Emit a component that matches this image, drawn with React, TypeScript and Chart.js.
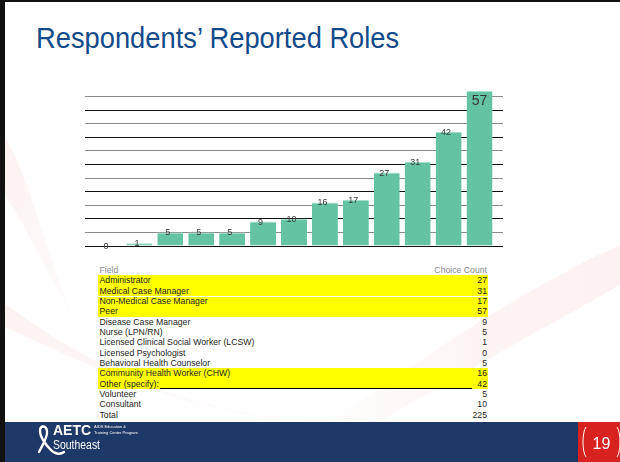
import React, { useEffect, useRef } from "react";
import { Chart, registerables } from "chart.js";

Chart.register(...registerables);

// ---- chart data (sorted as in the bar chart) ----
const barCategories = [
  "Licensed Psychologist",
  "Licensed Clinical Social Worker (LCSW)",
  "Nurse (LPN/RN)",
  "Behavioral Health Counselor",
  "Volunteer",
  "Disease Case Manager",
  "Consultant",
  "Community Health Worker (CHW)",
  "Non-Medical Case Manager",
  "Administrator",
  "Medical Case Manager",
  "Other (specify):",
  "Peer",
];
const barValues = [0, 1, 5, 5, 5, 9, 10, 16, 17, 27, 31, 42, 57];
const yMin = 0;
const yMax = 57;
const yStep = 5;

// ---- table data ----
const tableHeader = ["Field", "Choice Count"];
const tableFields = [
  "Administrator",
  "Medical Case Manager",
  "Non-Medical Case Manager",
  "Peer",
  "Disease Case Manager",
  "Nurse (LPN/RN)",
  "Licensed Clinical Social Worker (LCSW)",
  "Licensed Psychologist",
  "Behavioral Health Counselor",
  "Community Health Worker (CHW)",
  "Other (specify):",
  "Volunteer",
  "Consultant",
  "Total",
];
const tableCounts = [27, 31, 17, 57, 9, 5, 1, 0, 5, 16, 42, 5, 10, 225];
const tableHighlighted = [true, true, true, true, false, false, false, false, false, true, true, false, false, false];

const title = "Respondents\u2019 Reported Roles";
const slideNumber = "19";

const FONT = "Arial, 'Liberation Sans', Helvetica, sans-serif";

const gridColor = (ctx: any) => (ctx.index % 2 === 1 ? "#8a8a8a" : "#111111");

const labelPlugin = {
  id: "barLabels",
  afterDatasetsDraw(chart: any) {
    const ctx = chart.ctx;
    const meta = chart.getDatasetMeta(0);
    const data = chart.data.datasets[0].data as number[];
    const maxVal = Math.max(...data);
    ctx.save();
    ctx.textAlign = "center";
    ctx.textBaseline = "middle";
    meta.data.forEach((el: any, i: number) => {
      const v = data[i];
      if (v === maxVal) {
        ctx.font = `14px ${FONT}`;
        ctx.fillStyle = "#333333";
        ctx.fillText(String(v), el.x, el.y + 10);
      } else {
        ctx.font = `9px ${FONT}`;
        ctx.fillStyle = "#3a3a3a";
        ctx.fillText(String(v), el.x - 2.5, el.y + 0.5);
      }
    });
    ctx.restore();
  },
};

function BarChart() {
  const ref = useRef<HTMLCanvasElement | null>(null);
  useEffect(() => {
    if (!ref.current) return;
    const chart = new Chart(ref.current, {
      type: "bar",
      data: {
        labels: barCategories,
        datasets: [
          {
            data: barValues,
            backgroundColor: "#64c3a2",
            borderColor: "#a9e2cc",
            borderWidth: { top: 1, left: 0, right: 0, bottom: 0 },
            borderSkipped: false,
            barPercentage: 0.84,
            categoryPercentage: 1,
          },
        ],
      },
      options: {
        animation: false,
        responsive: false,
        maintainAspectRatio: false,
        layout: { padding: { top: 6, bottom: 6, left: 0, right: 0 } },
        plugins: { legend: { display: false }, tooltip: { enabled: false } },
        scales: {
          x: { display: false },
          y: {
            min: yMin,
            max: yMax,
            position: "left",
            ticks: { display: false, stepSize: yStep, includeBounds: false },
            border: { display: false },
            grid: { color: gridColor, tickColor: gridColor, tickLength: 8, drawTicks: true, lineWidth: 1 },
          },
          y2: {
            min: yMin,
            max: yMax,
            position: "right",
            ticks: { display: false, stepSize: yStep, includeBounds: false },
            border: { display: false },
            grid: { color: gridColor, tickColor: gridColor, tickLength: 8, drawTicks: true, drawOnChartArea: false, lineWidth: 1 },
          },
        },
      },
      plugins: [labelPlugin],
    } as any);
    return () => chart.destroy();
  }, []);
  return (
    <canvas
      ref={ref}
      width={418}
      height={167}
      style={{ position: "absolute", left: 85, top: 85, width: 418, height: 167 }}
    />
  );
}

function Table() {
  const rowH = 10.36;
  const rowStyle: React.CSSProperties = {
    display: "flex",
    alignItems: "center",
    height: rowH,
    lineHeight: `${rowH}px`,
    paddingLeft: 1.5,
    paddingRight: 1,
    boxSizing: "border-box",
    whiteSpace: "nowrap",
  };
  return (
    <div
      style={{
        position: "absolute",
        left: 98,
        top: 264.8,
        width: 390,
        fontFamily: FONT,
        fontSize: 8.7,
        color: "#262626",
      }}
    >
      <div style={{ ...rowStyle, color: "#8a8a8a", justifyContent: "space-between" }}>
        <span>{tableHeader[0]}</span>
        <span>{tableHeader[1]}</span>
      </div>
      {tableFields.map((f, i) => (
        <div
          key={f}
          style={{
            ...rowStyle,
            background: tableHighlighted[i] ? "#ffff00" : "transparent",
            boxShadow: i === 2 ? "inset 0 1px 0 #ffffff" : undefined,
          }}
        >
          <span>{f}</span>
          <span
            style={{
              flex: 1,
              alignSelf: "stretch",
              borderBottom: f.startsWith("Other") ? "1px solid #000" : "none",
              margin: f.startsWith("Other") ? "0 5px 0 1px" : 0,
            }}
          />
          <span>{tableCounts[i]}</span>
        </div>
      ))}
    </div>
  );
}

function Background() {
  return (
    <svg width={620} height={462} style={{ position: "absolute", left: 0, top: 0 }}>
      <defs>
        <linearGradient id="g1" x1="0" y1="0" x2="1" y2="1">
          <stop offset="0" stopColor="#f3b5b3" stopOpacity="0.18" />
          <stop offset="1" stopColor="#f3b5b3" stopOpacity="0.02" />
        </linearGradient>
        <linearGradient id="g2" x1="0" y1="0" x2="1" y2="0">
          <stop offset="0" stopColor="#f6c9c7" stopOpacity="0.03" />
          <stop offset="0.5" stopColor="#f6c9c7" stopOpacity="0.18" />
          <stop offset="1" stopColor="#f6c9c7" stopOpacity="0.25" />
        </linearGradient>
      </defs>
      <path d="M0 130 C 30 170, 45 260, 80 330 C 50 280, 25 220, 0 190 Z" fill="url(#g1)" />
      <path d="M0 300 C 80 360, 180 415, 330 422 L 300 422 C 170 410, 80 360, 0 325 Z" fill="url(#g1)" />
      <path d="M330 422 C 420 360, 520 290, 620 245 L 620 285 C 540 330, 450 380, 380 422 Z" fill="url(#g2)" />
    </svg>
  );
}

function Footer() {
  return (
    <>
      <div style={{ position: "absolute", left: 0, top: 422, width: 578, height: 40, background: "#1e3867" }} />
      <div style={{ position: "absolute", left: 578, top: 422, width: 42, height: 40, background: "#d7221f" }} />
      <svg width={620} height={462} style={{ position: "absolute", left: 0, top: 0 }}>
        {/* ribbon */}
        <path
          d="M39 452 C 43 444, 48 437, 47 431 C 46 425, 40 425, 40 431 C 40 437, 46 445, 50 449 C 54 454, 60 455, 64 452"
          fill="none"
          stroke="#ffffff"
          strokeWidth={2.4}
          strokeLinecap="round"
        />
        <text x={53} y={435} fill="#ffffff" fontFamily={FONT} fontWeight="bold" fontSize={14}>
          AETC
        </text>
        <text x={53} y={449} fill="#ffffff" fontFamily={FONT} fontSize={12.5} textLength={47} lengthAdjust="spacingAndGlyphs">
          Southeast
        </text>
        <text x={94} y={428} fill="#ffffff" fontFamily={FONT} fontSize={4}>
          AIDS Education &amp;
        </text>
        <text x={94} y={433.5} fill="#ffffff" fontFamily={FONT} fontSize={4}>
          Training Center Program
        </text>
        {/* slide number brackets */}
        <path d="M586 427 C 582 432, 582 452, 586 457" fill="none" stroke="#ffffff" strokeWidth={1} />
        <path d="M617 427 C 621 432, 621 452, 617 457" fill="none" stroke="#ffffff" strokeWidth={1} />
        <text x={601.5} y={448.5} fill="#ffffff" fontFamily={FONT} fontSize={16} textAnchor="middle">
          {slideNumber}
        </text>
      </svg>
    </>
  );
}

export default function App() {
  return (
    <div
      style={{
        position: "absolute",
        left: 0,
        top: 0,
        width: 620,
        height: 462,
        overflow: "hidden",
        background: "#ffffff",
        fontFamily: FONT,
      }}
    >
      <Background />
      <div
        style={{
          position: "absolute",
          left: 36,
          top: 20,
          fontSize: 30,
          lineHeight: "36px",
          color: "#134a8a",
          fontFamily: FONT,
          whiteSpace: "nowrap",
          transform: "scaleX(0.91)",
          transformOrigin: "0 0",
        }}
      >
        {title}
      </div>
      <BarChart />
      <Table />
      <Footer />
      <div style={{ position: "absolute", left: 0, top: 0, width: 620, height: 2, background: "#111" }} />
      <div style={{ position: "absolute", left: 0, top: 0, width: 5, height: 462, background: "#111" }} />
    </div>
  );
}
